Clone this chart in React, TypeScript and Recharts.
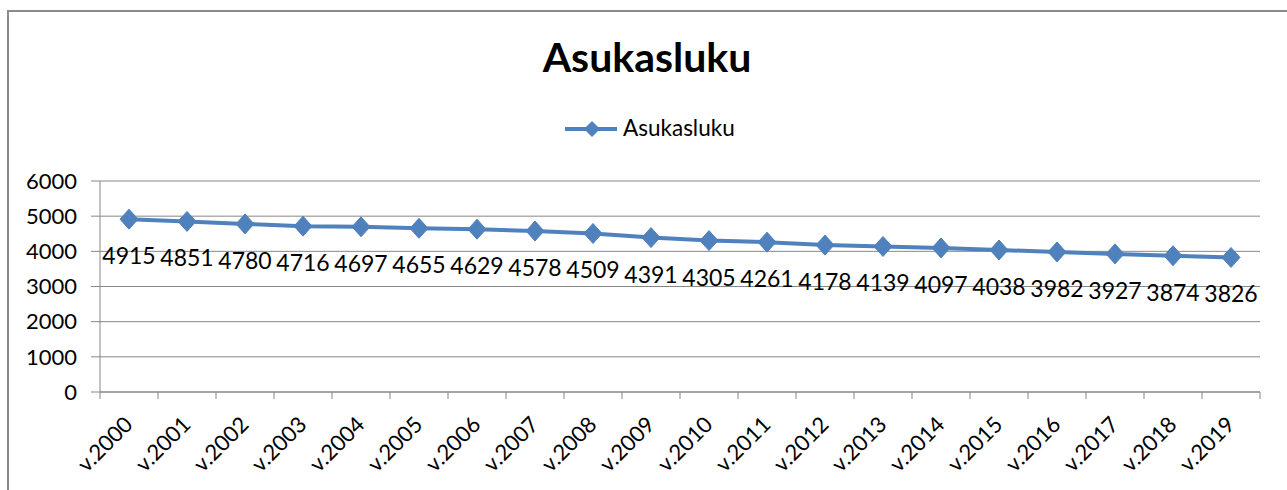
import React from 'react';
import { LineChart, Line, XAxis, YAxis, CartesianGrid, LabelList } from 'recharts';

const chartTitle = 'Asukasluku';
const seriesName = 'Asukasluku';
const years = [
  'v.2000', 'v.2001', 'v.2002', 'v.2003', 'v.2004', 'v.2005', 'v.2006', 'v.2007', 'v.2008', 'v.2009',
  'v.2010', 'v.2011', 'v.2012', 'v.2013', 'v.2014', 'v.2015', 'v.2016', 'v.2017', 'v.2018', 'v.2019',
];
const population = [
  4915, 4851, 4780, 4716, 4697, 4655, 4629, 4578, 4509, 4391,
  4305, 4261, 4178, 4139, 4097, 4038, 3982, 3927, 3874, 3826,
];
const yTicks = [0, 1000, 2000, 3000, 4000, 5000, 6000];

const data = years.map((year, i) => ({ year, value: population[i] }));

const BLUE = '#4F81BD';
const GRID = '#878787';
const FONT = 'Lato, "Liberation Sans", Arial, sans-serif';
const HALF_BAND = 29;

const Diamond = (props: any) => {
  const { cx, cy } = props;
  if (cx == null || cy == null) return null;
  return (
    <polygon
      points={`${cx},${cy - 10} ${cx + 9},${cy} ${cx},${cy + 10} ${cx - 9},${cy}`}
      fill={BLUE}
      stroke={BLUE}
      strokeWidth={1}
    />
  );
};

const XTick = (props: any) => {
  const { x, y, payload, index } = props;
  const last = index === years.length - 1;
  return (
    <g>
      <line x1={x - HALF_BAND} y1={y} x2={x - HALF_BAND} y2={y + 7} stroke={GRID} strokeWidth={1} />
      {last && <line x1={x + HALF_BAND} y1={y} x2={x + HALF_BAND} y2={y + 7} stroke={GRID} strokeWidth={1} />}
      <text
        x={x + 5}
        y={y + 34}
        textAnchor="end"
        transform={`rotate(-45, ${x + 5}, ${y + 34})`}
        fontFamily={FONT}
        fontSize={22}
        fill="#000"
      >
        {payload.value}
      </text>
    </g>
  );
};

const ValueLabel = (props: any) => {
  const { x, y, value } = props;
  if (x == null || y == null) return null;
  return (
    <text x={x} y={y + 45} textAnchor="middle" fontFamily={FONT} fontSize={23} fill="#000">
      {value}
    </text>
  );
};

export default function App() {
  return (
    <div style={{ position: 'fixed', left: 0, top: 0, width: 1287, height: 490, overflow: 'hidden', background: '#fff' }}>
      <div
        style={{
          position: 'absolute',
          left: 7,
          top: 10,
          width: 1400,
          height: 600,
          border: '2px solid #8a8a8a',
          boxSizing: 'border-box',
        }}
      />
      <svg style={{ position: 'absolute', left: 0, top: 0 }} width={1287} height={170}>
        <text x={647} y={72} textAnchor="middle" fontFamily={FONT} fontWeight="bold" fontSize={41} fill="#000">
          {chartTitle}
        </text>
        <line x1={565} y1={129} x2={617} y2={129} stroke={BLUE} strokeWidth={4} />
        <polygon points="592,121 600,129 592,137 584,129" fill={BLUE} />
        <text x={623} y={136} fontFamily={FONT} fontSize={22.5} fill="#000">
          {seriesName}
        </text>
      </svg>
      <div style={{ position: 'absolute', left: 0, top: 0 }}>
        <LineChart width={1287} height={490} data={data} margin={{ top: 181, right: 27, bottom: 8, left: 0 }}>
          <CartesianGrid vertical={false} stroke={GRID} strokeWidth={1} />
          <XAxis
            dataKey="year"
            padding={{ left: HALF_BAND, right: HALF_BAND }}
            axisLine={{ stroke: GRID, strokeWidth: 1 }}
            tickLine={false}
            tickSize={0}
            tickMargin={0}
            height={90}
            interval={0}
            tick={<XTick />}
          />
          <YAxis
            width={100}
            domain={[0, 6000]}
            ticks={yTicks}
            interval={0}
            axisLine={{ stroke: GRID, strokeWidth: 1 }}
            tickLine={{ stroke: GRID, strokeWidth: 1 }}
            tickSize={9}
            tickMargin={14}
            tick={{ fontFamily: FONT, fontSize: 22, fill: '#000' }}
          />
          <Line
            type="linear"
            dataKey="value"
            name={seriesName}
            stroke={BLUE}
            strokeWidth={4}
            dot={<Diamond />}
            activeDot={false}
            isAnimationActive={false}
          >
            <LabelList dataKey="value" content={<ValueLabel />} />
          </Line>
        </LineChart>
      </div>
    </div>
  );
}
